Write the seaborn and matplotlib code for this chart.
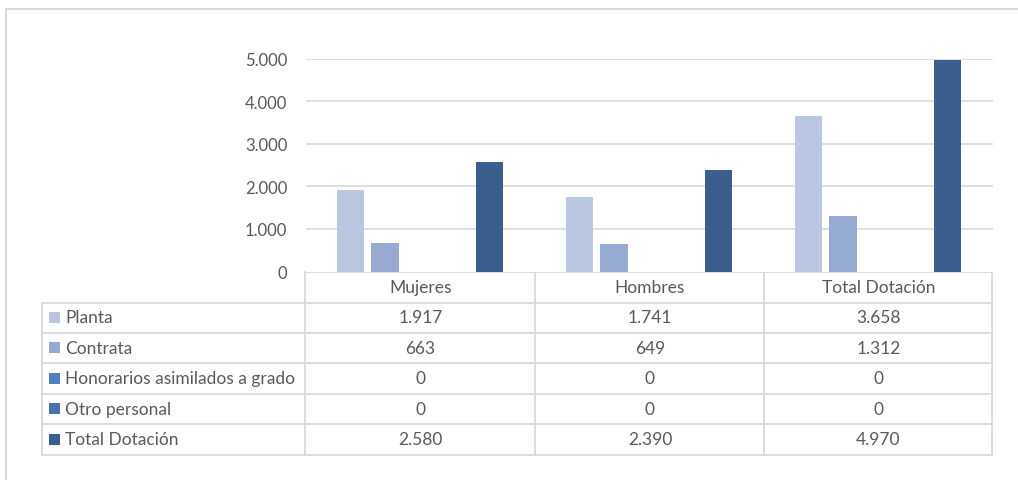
import matplotlib
matplotlib.use("Agg")
import matplotlib.pyplot as plt
from matplotlib.patches import Rectangle
from matplotlib.lines import Line2D
import seaborn as sns
import pandas as pd

# Data
categories = ["Mujeres", "Hombres", "Total Dotación"]
series = ["Planta", "Contrata", "Honorarios asimilados a grado", "Otro personal", "Total Dotación"]
planta = [1917, 1741, 3658]
contrata = [663, 649, 1312]
honorarios = [0, 0, 0]
otro_personal = [0, 0, 0]
total_dotacion = [2580, 2390, 4970]
y_ticks = [0, 1000, 2000, 3000, 4000, 5000]

colors = ["#BBC7E0", "#96AAD2", "#4F81C0", "#4873AA", "#3A5F8D"]
text_color = "#595959"
line_color = "#D9D9D9"

values = [planta, contrata, honorarios, otro_personal, total_dotacion]
rows = []
for s, vals in zip(series, values):
    for c, v in zip(categories, vals):
        rows.append({"categoria": c, "serie": s, "valor": v})
df = pd.DataFrame(rows)


def fmt(v):
    return f"{int(v):,}".replace(",", ".")


sns.set_theme(style="white")
plt.rcParams["font.family"] = ["Lato", "DejaVu Sans"]

W, H = 1018, 481
fig = plt.figure(figsize=(W / 100, H / 100), dpi=100)

# pixel helpers for layout
def fx(px):
    return px / W

def fy(py):
    return 1 - py / H

ax_left, ax_right, ax_top, ax_bottom = 305.5, 992.5, 59.5, 272.5
ax = fig.add_axes([fx(ax_left), fy(ax_bottom), fx(ax_right) - fx(ax_left), fy(ax_top) - fy(ax_bottom)])

sns.barplot(data=df, x="categoria", y="valor", hue="serie", order=categories,
            hue_order=series, palette=colors, saturation=1, width=0.76, gap=0.21,
            edgecolor="none", legend=False, ax=ax)

ax.set_ylim(0, 5000)
ax.set_xlim(-0.5, len(categories) - 0.5)
ax.set_yticks(y_ticks)
ax.set_yticklabels([fmt(v) for v in y_ticks], color=text_color, fontsize=12)
ax.tick_params(axis="y", length=0, pad=13)
ax.set_xticks([])
ax.set_xlabel("")
ax.set_ylabel("")
for sp in ax.spines.values():
    sp.set_visible(False)
for v in y_ticks[1:]:
    ax.axhline(v, color=line_color, lw=1.2, zorder=0)
ax.set_axisbelow(True)

# Data table under the plot, drawn on an overlay in pixel coordinates
tab = fig.add_axes([0, 0, 1, 1], zorder=-1)
tab.set_xlim(0, W)
tab.set_ylim(H, 0)
tab.axis("off")

col_edges = [ax_left, 535.5, 764.5, ax_right]
row_edges = [ax_bottom, 303.5, 333.5, 364, 394.5, 425, 455.5]
lab_left = 42.5

lw = 1.3
# header row (categories)
tab.add_line(Line2D([ax_left, ax_right], [row_edges[0], row_edges[0]], color=line_color, lw=lw))
for y in row_edges[1:]:
    tab.add_line(Line2D([lab_left, ax_right], [y, y], color=line_color, lw=lw))
for x in col_edges:
    tab.add_line(Line2D([x, x], [row_edges[0], row_edges[-1]], color=line_color, lw=lw))
tab.add_line(Line2D([lab_left, lab_left], [row_edges[1], row_edges[-1]], color=line_color, lw=lw))

# outer chart frame
tab.add_line(Line2D([6, W], [9.5, 9.5], color=line_color, lw=1.5))
tab.add_line(Line2D([6, 6], [9.5, H], color=line_color, lw=1.5))

fs = 12.5
for i, c in enumerate(categories):
    xc = (col_edges[i] + col_edges[i + 1]) / 2
    yc = (row_edges[0] + row_edges[1]) / 2
    tab.text(xc, yc, c, ha="center", va="center", color=text_color, fontsize=fs)

for r, (s, vals, col) in enumerate(zip(series, values, colors)):
    yc = (row_edges[r + 1] + row_edges[r + 2]) / 2
    tab.add_patch(Rectangle((49, yc - 5.5), 11, 11, facecolor=col, edgecolor="none"))
    tab.text(65, yc, s, ha="left", va="center", color=text_color, fontsize=fs)
    for i, v in enumerate(vals):
        xc = (col_edges[i] + col_edges[i + 1]) / 2
        tab.text(xc, yc, fmt(v), ha="center", va="center", color=text_color, fontsize=fs)

fig.savefig("out.png", dpi=100, facecolor="white")
